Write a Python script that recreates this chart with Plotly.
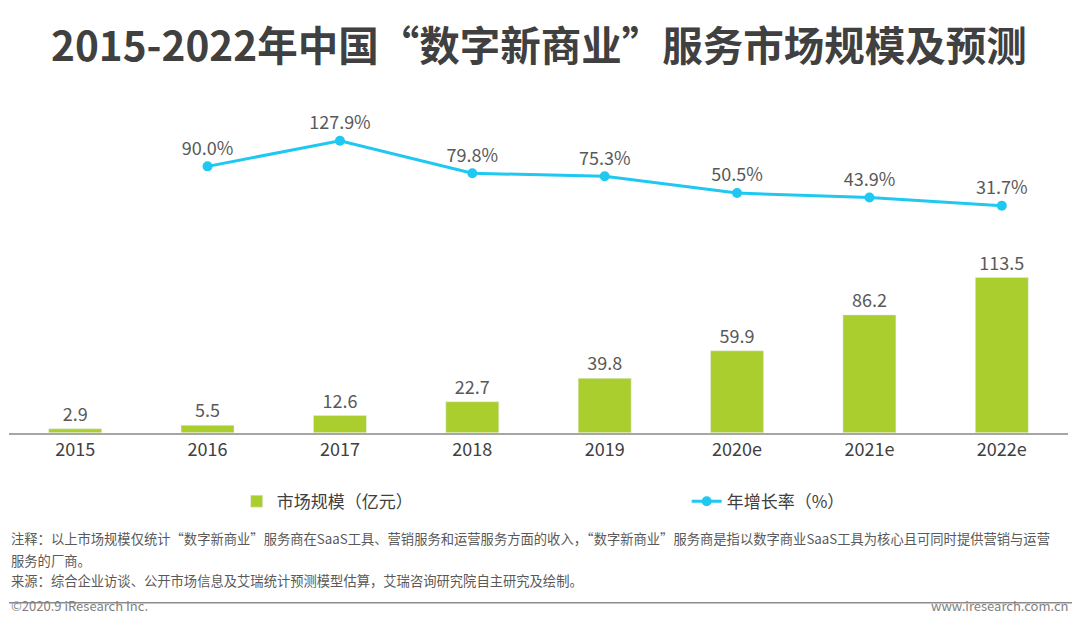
import plotly.graph_objects as go

years = ["2015", "2016", "2017", "2018", "2019", "2020e", "2021e", "2022e"]
scale = [2.9, 5.5, 12.6, 22.7, 39.8, 59.9, 86.2, 113.5]
growth_years = years[1:]
growth = [90.0, 127.9, 79.8, 75.3, 50.5, 43.9, 31.7]

H = 627
FONT = "Noto Sans CJK SC"


def py(p):
    # pixel row in the 627 px picture -> paper fraction (measured rendering offset)
    return 1 - (p - 41) / 583


fig = go.Figure()
fig.add_trace(go.Bar(
    x=years, y=scale, name="市场规模（亿元）", marker_color="#A9CE2D", width=0.4,
    text=[f"{v:.1f}" for v in scale], textposition="outside", cliponaxis=False,
    textfont=dict(size=18, color="#595959"), yaxis="y"))
fig.add_trace(go.Scatter(
    x=growth_years, y=growth, name="年增长率（%）", mode="lines+markers+text",
    line=dict(color="#1FC8F0", width=3), marker=dict(size=10, color="#1FC8F0"),
    text=[f"{v:.1f}%" for v in growth], textposition="top center",
    textfont=dict(size=18, color="#595959"), yaxis="y2", cliponaxis=False))

fig.update_layout(
    width=1080, height=H, margin=dict(l=1, r=20, t=0, b=0, autoexpand=False),
    paper_bgcolor="white", plot_bgcolor="white",
    font=dict(family=FONT, color="#404040"),
    xaxis=dict(type="category", showline=True, linecolor="#A6A6A6", linewidth=1.5,
               tickfont=dict(size=18, color="#404040"), ticks="", showgrid=False),
    yaxis=dict(domain=[py(436), py(104)], range=[0, 261], visible=False),
    yaxis2=dict(domain=[py(436), py(104)], range=[-304, 224], visible=False,
                overlaying="y"),
    showlegend=True,
    legend=dict(orientation="h", x=0.215, y=py(500), yanchor="middle", xanchor="left",
                entrywidth=405, font=dict(size=17, color="#404040")),
    bargap=0.6,
)

fig.add_annotation(text="<b>2015-2022年中国“数字新商业”服务市场规模及预测</b>", x=0.5, y=py(45),
                   xref="paper", yref="paper", showarrow=False, font=dict(size=40.5, color="#404040"))
notes = [
    ("注释：以上市场规模仅统计“数字新商业”服务商在SaaS工具、营销服务和运营服务方面的收入，“数字新商业”服务商是指以数字商业SaaS工具为核心且可同时提供营销与运营", 545),
    ("服务的厂商。", 565),
    ("来源：综合企业访谈、公开市场信息及艾瑞统计预测模型估算，艾瑞咨询研究院自主研究及绘制。", 584),
]
for t, yy in notes:
    fig.add_annotation(text=t, x=0.0, y=py(yy), xref="paper", yref="paper",
                       xanchor="left", showarrow=False, font=dict(size=13.3, color="#595959"))
fig.add_shape(type="line", xref="paper", yref="paper", x0=0.0, x1=1.004,
              y0=py(594), y1=py(594), line=dict(color="#8C8C8C", width=1.5))
fig.add_annotation(text="©2020.9 iResearch Inc.", x=0.0, y=py(607), xref="paper", yref="paper",
                   xanchor="left", showarrow=False, font=dict(size=13, color="#7F7F7F"))
fig.add_annotation(text="www.iresearch.com.cn", x=1.003, y=py(607), xref="paper", yref="paper",
                   xanchor="right", showarrow=False, font=dict(size=13, color="#7F7F7F"))

fig.write_html("out.html")
